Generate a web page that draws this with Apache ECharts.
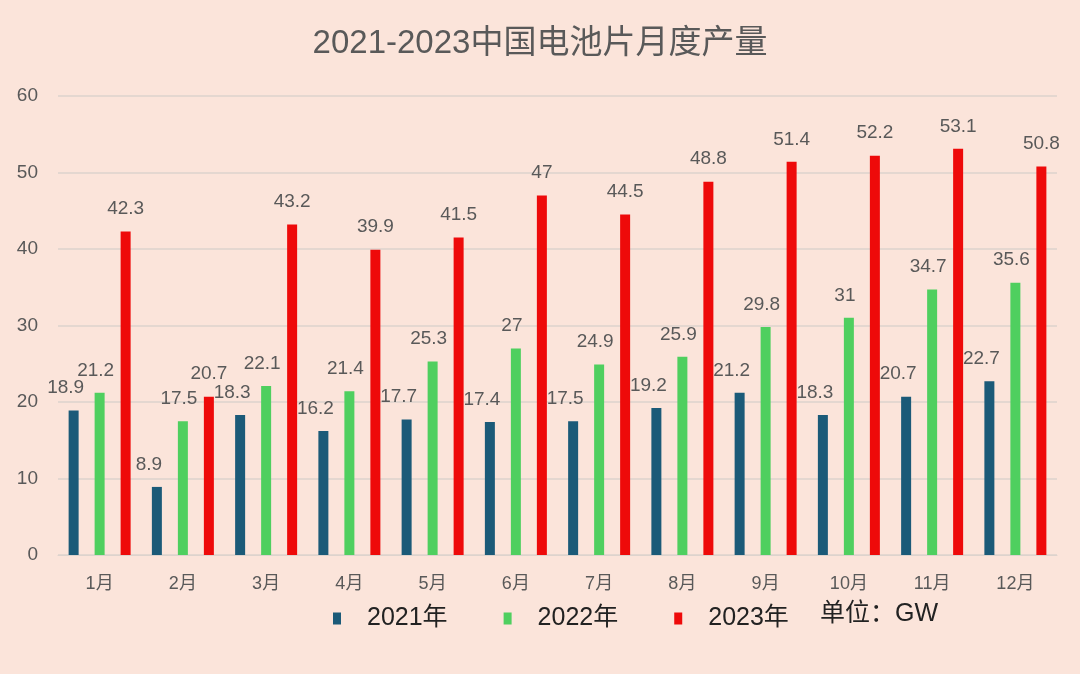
<!DOCTYPE html>
<html><head><meta charset="utf-8">
<script src="https://cdn.jsdelivr.net/npm/echarts@6/dist/echarts.min.js"></script>
<style>html,body{margin:0;padding:0;background:#fbe4da;}#c{width:1080px;height:674px;}</style>
</head><body><div id="c"></div>
<script>
const titleText = '2021-2023中国电池片月度产量';
const months = ['1月','2月','3月','4月','5月','6月','7月','8月','9月','10月','11月','12月'];
const seriesNames = ['2021年','2022年','2023年'];
const y2021 = [18.9, 8.9, 18.3, 16.2, 17.7, 17.4, 17.5, 19.2, 21.2, 18.3, 20.7, 22.7];
const y2022 = [21.2, 17.5, 22.1, 21.4, 25.3, 27, 24.9, 25.9, 29.8, 31, 34.7, 35.6];
const y2023 = [42.3, 20.7, 43.2, 39.9, 41.5, 47, 44.5, 48.8, 51.4, 52.2, 53.1, 50.8];
const yTicks = {min: 0, max: 60, interval: 10};
const unitText = '单位：GW';

const colors = ['#1b5a78', '#4fcf5f', '#ee0a0a'];
const font = '"Liberation Sans", "Noto Sans CJK SC", sans-serif';
const chart = echarts.init(document.getElementById('c'));
const mk = (name, data, i, dx) => ({
  name, type: 'bar', data, barWidth: 10, barGap: '160%',
  itemStyle: {color: colors[i]},
  label: {show: true, position: 'top', distance: 13, offset: [dx, 0], color: '#595959', fontSize: 19, fontFamily: font}
});
chart.setOption({
  backgroundColor: '#fbe4da',
  animation: false,
  title: {text: titleText, left: 'center', top: 22, textStyle: {color: '#595959', fontSize: 33, fontWeight: 'normal', fontFamily: font}},
  grid: {left: 58, right: 23, top: 96, bottom: 119},
  legend: {
    data: seriesNames, left: 328, top: 601, itemWidth: 8, itemHeight: 12, itemGap: 56,
    icon: 'rect',
    textStyle: {color: '#222', fontSize: 25, fontFamily: font, padding: [0,0,0,21]}
  },
  graphic: [{type: 'text', left: 820, top: 602, style: {text: unitText, fill: '#222', fontSize: 25, fontFamily: font}}],
  xAxis: {
    type: 'category', data: months,
    axisLine: {lineStyle: {color: '#ddd3cd'}}, axisTick: {show: false},
    axisLabel: {color: '#595959', fontSize: 18, fontFamily: font, margin: 20}
  },
  yAxis: {
    type: 'value', min: yTicks.min, max: yTicks.max, interval: yTicks.interval,
    axisLine: {show: false}, axisTick: {show: false},
    splitLine: {lineStyle: {color: '#ddd3cd', width: 1.5}},
    axisLabel: {color: '#595959', fontSize: 19, fontFamily: font, margin: 20}
  },
  series: [mk(seriesNames[0], y2021, 0, -8), mk(seriesNames[1], y2022, 1, -4), mk(seriesNames[2], y2023, 2, 0)]
});
</script></body></html>
